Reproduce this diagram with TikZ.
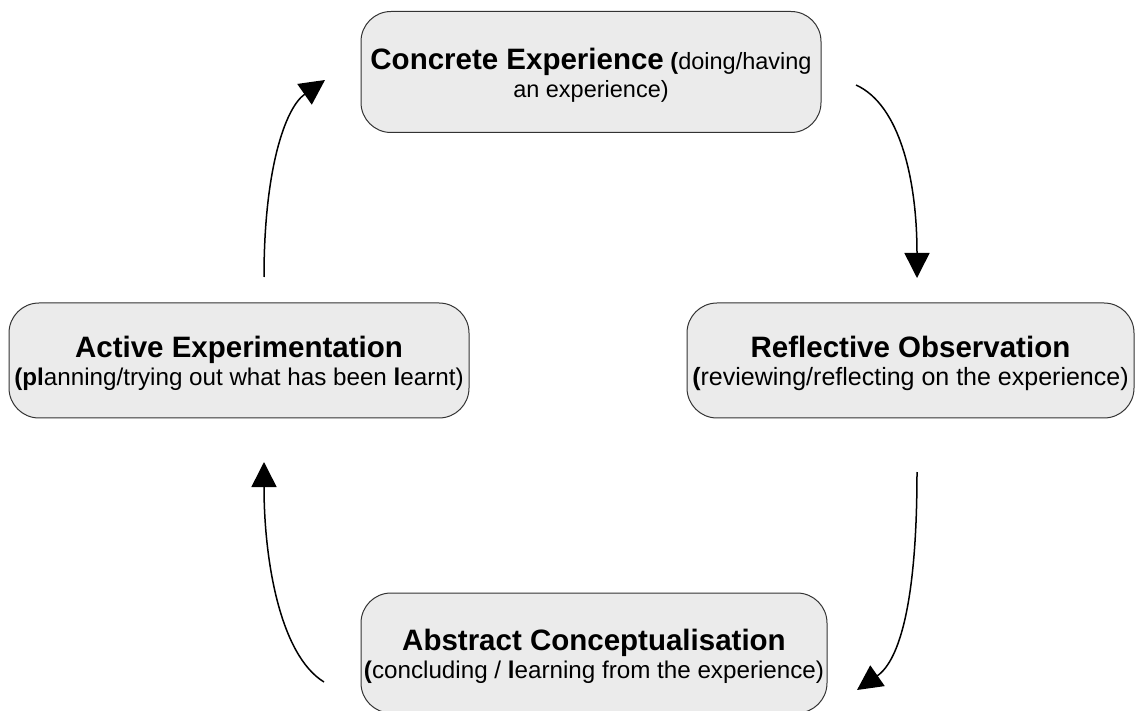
\documentclass[tikz,border=0pt]{standalone}
\usepackage{fontspec}
\setmainfont{Liberation Sans}
\usetikzlibrary{arrows.meta}
\definecolor{boxgray}{HTML}{EBEBEB}
\tikzset{
	stagebox/.style={draw=black!80, fill=boxgray, rounded corners=30pt, line width=1pt, align=center, inner sep=0pt},
	cycle/.style={line width=1.5pt, -{Triangle[length=25pt,width=25pt]}}
}
% bold heading of a stage, size as argument, strut lowers the text a bit
\newcommand{\stagetitle}[2]{{\fontsize{#1}{28}\selectfont\bfseries\rule{0pt}{27.5pt}#2}}
\begin{document}
\begin{tikzpicture}[x=1pt, y=-1pt]
		\useasboundingbox (0,0) rectangle (1136,711);
		\node[stagebox, minimum width=460pt, minimum height=121pt, font=\fontsize{23.5}{28}\selectfont] (ce) at (591,72) {\stagetitle{29.5}{Concrete Experience} \textbf{(}doing/having\\an experience)};
		\node[stagebox, minimum width=447pt, minimum height=115pt, font=\fontsize{25}{28}\selectfont] (ro) at (910.5,360.5) {\stagetitle{29.5}{Reflective Observation}\\\textbf{(}reviewing/reflecting on the experience)};
		\node[stagebox, minimum width=466pt, minimum height=120pt, font=\fontsize{24.2}{28}\selectfont] (ac) at (594,653) {\stagetitle{29.5}{Abstract Conceptualisation}\\\textbf{(}concluding / \textbf{l}earning from the experience)};
		\node[stagebox, minimum width=460pt, minimum height=115pt, font=\fontsize{24.2}{28}\selectfont] (ae) at (239,360.5) {\stagetitle{29.5}{Active Experimentation}\\\textbf{(pl}anning/trying out what has been \textbf{l}earnt)};
		\coordinate (ce-out) at (856,85);
		\coordinate (ro-in) at (917,278);
		\coordinate (ro-out) at (917,472);
		\coordinate (ac-in) at (857,690);
		\coordinate (ac-out) at (324,682);
		\coordinate (ae-in) at (264,462);
		\coordinate (ae-out) at (264,277);
		\coordinate (ce-in) at (325,80);
		\draw[cycle] (ce-out) .. controls (900,105) and (917,180) .. (ro-in);
		\draw[cycle] (ro-out) .. controls (917,600) and (900,660) .. (ac-in);
		\draw[cycle] (ac-out) .. controls (280,655) and (264,560) .. (ae-in);
		\draw[cycle] (ae-out) .. controls (264,170) and (285,108) .. (ce-in);
	\end{tikzpicture}
\end{document}
